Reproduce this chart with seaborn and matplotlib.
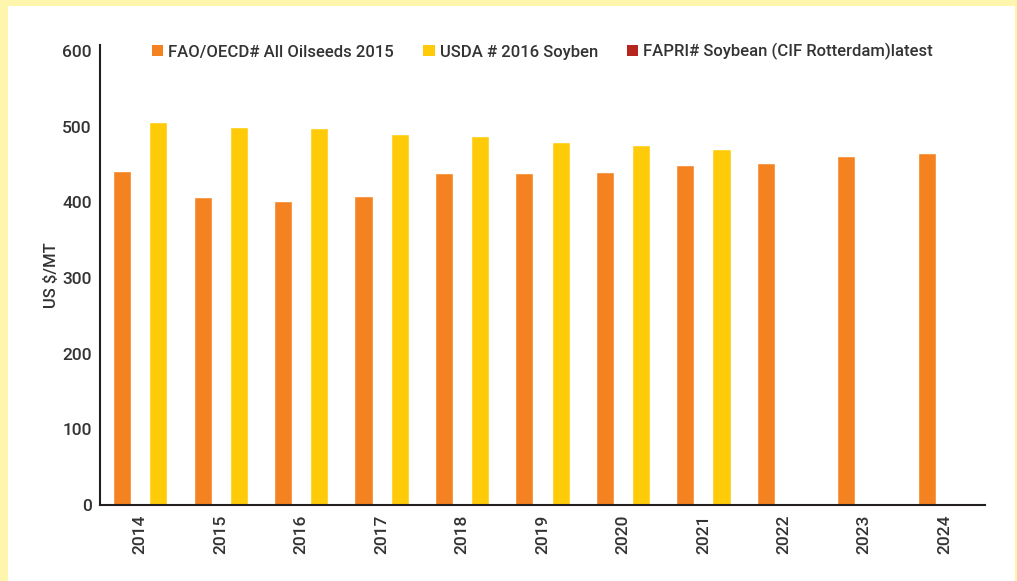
import matplotlib
matplotlib.use("Agg")
import matplotlib.pyplot as plt
from matplotlib.patches import Patch, Rectangle
import seaborn as sns
import pandas as pd

years = ["2014", "2015", "2016", "2017", "2018", "2019", "2020", "2021", "2022", "2023", "2024"]
series_names = ["FAO/OECD# All Oilseeds 2015", "USDA # 2016 Soyben", "FAPRI# Soybean (CIF Rotterdam)latest"]
fao_oecd = [442, 407, 402, 408, 439, 439, 440, 449, 452, 461, 465]
usda_years = ["2014", "2015", "2016", "2017", "2018", "2019", "2020", "2021"]
usda = [506, 500, 498, 491, 488, 480, 476, 470]
colors = ["#F58220", "#FFCB08", "#B5271E"]

rows = []
for y, v in zip(years, fao_oecd):
    rows.append({"year": y, "series": series_names[0], "value": v})
for y, v in zip(usda_years, usda):
    rows.append({"year": y, "series": series_names[1], "value": v})
df = pd.DataFrame(rows)

sns.set_theme(style="white")
plt.rcParams["font.family"] = ["Roboto", "DejaVu Sans"]
plt.rcParams["font.weight"] = "medium"
text_color = "#333333"

fig = plt.figure(figsize=(10.17, 5.81), dpi=100, facecolor="#FFF6AE")
# white panel
panel = Rectangle((8 / 1017, 0), (1015 - 8) / 1017, 1 - 6 / 581,
                  transform=fig.transFigure, facecolor="white",
                  edgecolor="none", zorder=-10)
fig.add_artist(panel)
ax = fig.add_axes([100 / 1017, 1 - 505 / 581, 885 / 1017, 460 / 581])
ax.set_facecolor("none")
ax.set_zorder(5)

sns.barplot(data=df, x="year", y="value", hue="series", order=years,
            hue_order=series_names[:2], palette=colors[:2], width=0.9, gap=0.5,
            saturation=1, ax=ax, legend=False)

ax.set_xlim(-0.5, len(years) - 0.5)
ax.set_ylim(0, 608)
ax.set_yticks([0, 100, 200, 300, 400, 500, 600])
ax.tick_params(axis="y", length=0, pad=6, labelsize=12.5, labelcolor=text_color)
ax.tick_params(axis="x", length=0, pad=7, labelsize=12.5, labelcolor=text_color, rotation=90)
for lab in ax.get_xticklabels() + ax.get_yticklabels():
    lab.set_fontweight("medium")
for s in ["top", "right"]:
    ax.spines[s].set_visible(False)
for s in ["left", "bottom"]:
    ax.spines[s].set_color("#231F20")
    ax.spines[s].set_linewidth(1.5)
ax.set_xlabel("")
ax.set_ylabel("US $/MT", fontsize=12, color=text_color, labelpad=2, fontweight="medium")

handles = [Patch(facecolor=c, edgecolor="none") for c in colors]
leg = ax.legend(handles, series_names, ncol=3, loc="center", bbox_to_anchor=(0.5, 0.985),
                frameon=False, handlelength=0.68, handleheight=0.62,
                handletextpad=0.3, columnspacing=1.75, prop={"size": 12, "weight": "medium"})
for t in leg.get_texts():
    t.set_color(text_color)

fig.savefig("out.png", dpi=100, facecolor=fig.get_facecolor())
